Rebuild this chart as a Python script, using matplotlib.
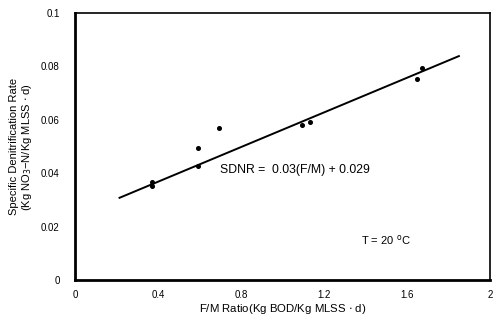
import numpy as np
import matplotlib
matplotlib.use("Agg")
import matplotlib.pyplot as plt

plt.rcParams['font.family'] = ['Liberation Sans', 'DejaVu Sans']

# measured points (F/M ratio, SDNR)
fm = [0.371, 0.371, 0.593, 0.593, 0.692, 1.094, 1.134, 1.648, 1.674]
sdnr = [0.0368, 0.0352, 0.0496, 0.0427, 0.0568, 0.0579, 0.0591, 0.0753, 0.0793]

# regression line as drawn
fm_line = [0.215, 1.85]
sdnr_line = [0.0308, 0.0839]

xticks = [0, 0.4, 0.8, 1.2, 1.6, 2]
xticklabels = ['0', '0.4', '0.8', '1.2', '1.6', '2']
yticks = [0, 0.02, 0.04, 0.06, 0.08, 0.1]
yticklabels = ['0', '0.02', '0.04', '0.06', '0.08', '0.1']

fig = plt.figure(figsize=(4.96, 3.2), dpi=100)
ax = fig.add_axes([0.151, 0.125, 0.837, 0.834])

ax.plot(fm_line, sdnr_line, color='black', lw=1.4)
ax.plot(fm, sdnr, 'o', color='black', ms=2.6)

ax.set_xlim(0, 2)
ax.set_ylim(0, 0.1)
ax.set_xticks(xticks)
ax.set_xticklabels(xticklabels)
ax.set_yticks(yticks)
ax.set_yticklabels(yticklabels)
ax.tick_params(axis='y', length=0, labelsize=7, pad=11)
ax.tick_params(axis='x', length=0, labelsize=7, pad=7)

for s in ['left', 'bottom']:
    ax.spines[s].set_linewidth(2)
for s in ['top', 'right']:
    ax.spines[s].set_linewidth(1.2)

ax.text(0.70, 0.0412, 'SDNR =  0.03(F/M) + 0.029', fontsize=8.8, va='center')
ax.text(1.38, 0.015, 'T = 20 $^{\\rm o}$C', fontsize=8, va='center')

ax.set_xlabel('F/M Ratio(Kg BOD/Kg MLSS $\\cdot$ d)', fontsize=8.2, labelpad=2)
ax.set_ylabel('Specific Denitrification Rate\n(Kg NO$_3$\u2212N/Kg MLSS $\\cdot$ d)',
              fontsize=8, labelpad=5, linespacing=1.1)

fig.savefig('out.png', dpi=100)
